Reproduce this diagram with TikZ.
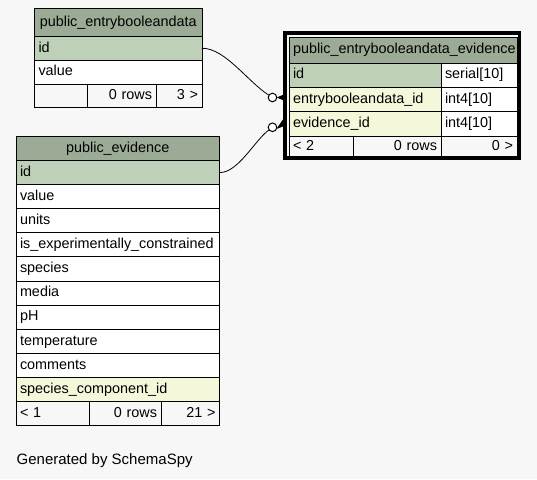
\documentclass[tikz,border=0pt]{standalone}
\usepackage{fontspec}
\setmainfont{Liberation Sans}
\newfontfamily\tabfont{Liberation Sans}
\definecolor{bgc}{HTML}{F7F7F7}
\definecolor{hdrc}{HTML}{9BAB96}
\definecolor{pkc}{HTML}{BED1B8}
\definecolor{fkc}{HTML}{F4F7DA}
\tikzset{
  cell/.style={draw=black, line width=1pt, anchor=north west, outer sep=0pt,
    inner xsep=4pt, inner ysep=0pt, text height=10.5pt, text depth=3pt,
    font=\tabfont\fontsize{14.4}{17}\selectfont, fill=white},
  cw/.style={minimum width=#1, text width=#1-8pt},
  ch/.style={minimum height=#1},
  L/.style={align=left},
  R/.style={align=right},
  C/.style={align=center},
  hdr/.style={cell, C, fill=hdrc},
  pk/.style={cell, L, fill=pkc},
  fk/.style={cell, L, fill=fkc},
  body/.style={cell, L},
  foot/.style={cell, fill=bgc},
  ring/.style={circle, draw=black, fill=white, line width=1pt, minimum size=8.6pt, inner sep=0pt, outer sep=0pt},
  rel/.style={draw=black, line width=0.8pt},
}
\begin{document}
\begin{tikzpicture}[x=1pt,y=-1pt]
\fill[bgc] (0,0) rectangle (537,479);
\useasboundingbox (0,0) rectangle (537,479);

% public_entrybooleandata
\node[hdr, cw=167.5pt, ch=28pt] (e-h) at (34.5,8.5) {public\_entrybooleandata};
\node[pk, cw=167.5pt, ch=23.5pt] (e-id) at (34.5,36.5) {id};
\node[body, cw=167.5pt, ch=24pt] (e-value) at (34.5,60) {value};
\node[foot, L, cw=52.5pt, ch=23pt] (e-f1) at (34.5,84) {};
\node[foot, R, cw=69pt, ch=23pt] (e-f2) at (87,84) {0 rows};
\node[foot, R, cw=46pt, ch=23pt] (e-f3) at (156,84) {3 >};

% public_entrybooleandata_evidence
\node[hdr, cw=228pt, ch=26pt] (b-h) at (289,37) {public\_entrybooleandata\_evidence};
\node[pk, cw=152pt, ch=24.3pt] (b-id) at (289,63) {id};
\node[body, cw=76pt, ch=24.3pt] (b-idt) at (441,63) {serial[10]};
\node[fk, cw=152pt, ch=24.4pt] (b-entry) at (289,87.3) {entrybooleandata\_id};
\node[body, cw=76pt, ch=24.4pt] (b-entryt) at (441,87.3) {int4[10]};
\node[fk, cw=152pt, ch=24.3pt] (b-evid) at (289,111.7) {evidence\_id};
\node[body, cw=76pt, ch=24.3pt] (b-evidt) at (441,111.7) {int4[10]};
\node[foot, L, cw=64pt, ch=21pt] (b-f1) at (289,136) {< 2};
\node[foot, R, cw=88pt, ch=21pt] (b-f2) at (353,136) {0 rows};
\node[foot, R, cw=76pt, ch=21pt] (b-f3) at (441,136) {0 >};
\draw[line width=3.6pt] (285,33) rectangle (519.5,158);

% public_evidence
\node[hdr, cw=203.5pt, ch=24.5pt] (v-h) at (16,136) {public\_evidence};
\node[pk, cw=203.5pt, ch=24.1pt] (v-id) at (16,160.5) {id};
\node[body, cw=203.5pt, ch=24.1pt] (v-value) at (16,184.6) {value};
\node[body, cw=203.5pt, ch=24.1pt] (v-units) at (16,208.7) {units};
\node[body, cw=203.5pt, ch=24.1pt] (v-isexp) at (16,232.8) {is\_experimentally\_constrained};
\node[body, cw=203.5pt, ch=24.1pt] (v-species) at (16,256.9) {species};
\node[body, cw=203.5pt, ch=24.1pt] (v-media) at (16,281) {media};
\node[body, cw=203.5pt, ch=24.1pt] (v-ph) at (16,305.1) {pH};
\node[body, cw=203.5pt, ch=24.1pt] (v-temp) at (16,329.2) {temperature};
\node[body, cw=203.5pt, ch=24.1pt] (v-comm) at (16,353.3) {comments};
\node[fk, cw=203.5pt, ch=24.1pt] (v-scid) at (16,377.4) {species\_component\_id};
\node[foot, L, cw=73pt, ch=24.1pt] (v-f1) at (16,401.5) {< 1};
\node[foot, R, cw=72pt, ch=24.1pt] (v-f2) at (89,401.5) {0 rows};
\node[foot, R, cw=58.5pt, ch=24.1pt] (v-f3) at (161,401.5) {21 >};

% relationships
\node[ring] (c1) at (272.5,97.5) {};
\node[ring] (c2) at (272.5,127.3) {};
\draw[rel] (e-id.east) .. controls (225,48) and (248,82) .. (c1);
\draw[rel] (v-id.east) .. controls (238,173) and (255,140) .. (c2);
\fill[black] (c1.east) -- (285,94) -- (285,101) -- cycle;
\fill[black] (c2.-22.6) -- (285.8,125.5) -- (283.2,119.1) -- cycle;

\node[anchor=base west, inner sep=0pt, font=\fontsize{15}{18}\selectfont] (gen) at (16.5,464.3) {Generated by SchemaSpy};
\end{tikzpicture}
\end{document}
